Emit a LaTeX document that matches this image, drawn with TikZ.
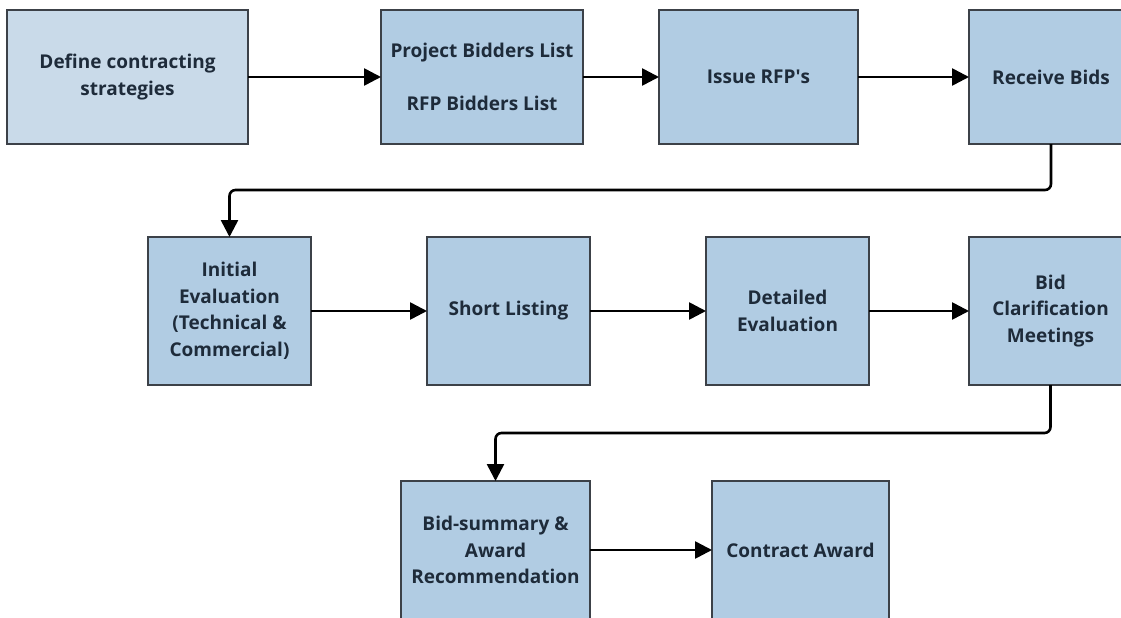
\documentclass[tikz,border=0pt]{standalone}
\usepackage{fontspec}
\setmainfont{Open Sans}
\usetikzlibrary{positioning}
\usetikzlibrary{arrows.meta}
\definecolor{stepblue}{HTML}{B1CCE3}
\definecolor{startblue}{HTML}{C9DAE9}
\definecolor{inkdark}{HTML}{1E2B3A}
\definecolor{edgegray}{HTML}{3C4148}
\tikzset{
  box/.style      = { rectangle, inner sep=0pt, outer sep=0pt, align=center },
  border/.style   = { draw=edgegray, line width=1.3pt },
  boxtext/.style  = { font=\fontsize{19}{26.5}\selectfont\bfseries, text=inkdark },
}
\tikzset{
  stage/.style    = { box, border, boxtext, fill=stepblue },
  firstbox/.style = { stage, fill=startblue },
  rowone/.style   = { minimum height=134pt },
  rowtwo/.style   = { minimum width=163pt, minimum height=148pt },
  rowthree/.style = { minimum height=138pt },
  flow/.style     = { line width=2.6pt, -{Triangle[length=17pt,width=17pt]} },
}

\begin{document}
\begin{tikzpicture}[x=1pt,y=-1pt]
  \useasboundingbox (0,0) rectangle (1121,618);
  \clip (0,0) rectangle (1121,618);

  \node (strategy)  [firstbox,rowone,minimum width=241pt] at (127.5,77) {Define contracting\\strategies};
  \node (lists)     [stage,rowone,minimum width=202pt,right=133pt of strategy] {Project Bidders List\\[26.5pt]RFP Bidders List};
  \node (rfp)       [stage,rowone,minimum width=199pt,right=76pt of lists]     {Issue RFP\textquotesingle s};
  \node (bids)      [stage,rowone,minimum width=164pt,right=111pt of rfp]      {Receive Bids};

  \node (initial)   [stage,rowtwo] at (229.5,311)            {Initial\\Evaluation\\(Technical \&\\Commercial)};
  \node (shortlist) [stage,rowtwo,right=116pt of initial]    {Short Listing};
  \node (detailed)  [stage,rowtwo,right=116pt of shortlist]  {Detailed\\Evaluation};
  \node (clarify)   [stage,rowtwo,right=100pt of detailed]   {Bid\\Clarification\\Meetings};

  \node (summary)   [stage,rowthree,minimum width=189pt] at (495.5,550)         {Bid-summary \&\\Award\\Recommendation};
  \node (award)     [stage,rowthree,minimum width=177pt,right=122pt of summary] {Contract Award};


  \draw [flow] (strategy) -- (lists);
  \draw [flow] (lists)    -- (rfp);
  \draw [flow] (rfp)      -- (bids);

  \draw [flow,rounded corners=6pt]
        (bids.south) -- ++(0,46) -| (initial.north);

  \draw [flow] (initial)   -- (shortlist);
  \draw [flow] (shortlist) -- (detailed);
  \draw [flow] (detailed)  -- (clarify);

  \draw [flow,rounded corners=6pt]
        (clarify.south) -- ++(0,48) -| (summary.north);

  \draw [flow] (summary) -- (award);

\end{tikzpicture}
\end{document}
